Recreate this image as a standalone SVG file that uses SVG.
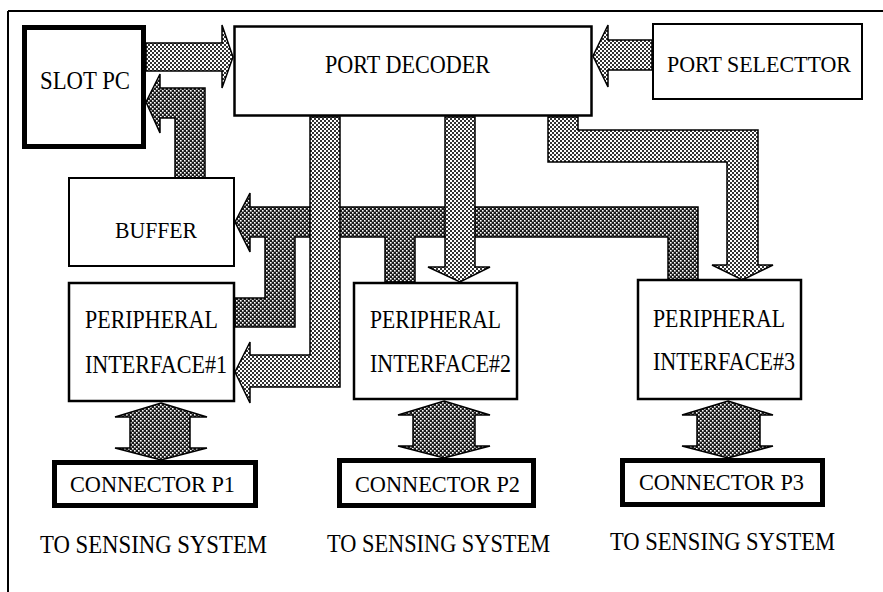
<svg xmlns="http://www.w3.org/2000/svg" width="883" height="592" viewBox="0 0 883 592">
<defs>
<pattern id="lightPat" width="4" height="4" patternUnits="userSpaceOnUse">
<rect width="4" height="4" fill="#ffffff"/>
<rect x="0" y="0" width="2" height="2" fill="#333"/>
<rect x="2" y="2" width="2" height="2" fill="#333"/>
</pattern>
<pattern id="darkPat" width="4" height="4" patternUnits="userSpaceOnUse">
<rect width="4" height="4" fill="#1a1a1a"/>
<rect x="0" y="0" width="1.6" height="1.6" fill="#ffffff"/>
<rect x="2" y="2" width="1.6" height="1.6" fill="#ffffff"/>
</pattern>
<style>
.box{fill:#fff;stroke:#000;stroke-width:2.5}
.thick{fill:#fff;stroke:#000;stroke-width:5}
.light{fill:url(#lightPat);stroke:#000;stroke-width:1.5;stroke-linejoin:miter}
.dark{fill:url(#darkPat);stroke:#000;stroke-width:1.5;stroke-linejoin:miter}
text{font-family:"Liberation Serif","DejaVu Serif",serif;font-size:26px;fill:#000}
.sm{font-size:23px}
</style>
</defs>
<rect width="883" height="592" fill="#fff"/>
<g id="frame">
<line x1="8" y1="11" x2="883" y2="11" stroke="#000" stroke-width="2"/>
<line x1="8" y1="11" x2="8" y2="592" stroke="#000" stroke-width="2"/>
</g>
<g id="connectors">
<polygon class="dark" points="235,222 250,193 250,207 698,207 698,280 668,280 668,237 415,237 415,282 385,282 385,237 295,237 295,327 235,327 235,298 265,298 265,237 250,237 250,252"/>
<polygon class="dark" points="146,102 160,74 160,88 205,88 205,178 175,178 175,118 160,118 160,133"/>
<polygon class="light" points="146,43 222,43 222,25 233,57 222,88 222,71 146,71"/>
<polygon class="light" points="652,40 608,40 608,25 593,56 608,87 608,70 652,70"/>
<polygon class="light" points="310,117 340,117 340,387 250,387 250,403 235,372 250,342 250,355 310,355"/>
<polygon class="light" points="445,117 475,117 475,267 490,267 460,282 428,267 445,267"/>
<polygon class="light" points="548,117 578,117 578,130 758,130 758,265 773,265 742.5,280 712,265 727,265 727,162 548,162"/>
<polygon class="dark" points="161,403 207,417 190,417 190,448 207,448 161,460 115,448 130,448 130,417 115,417"/>
<polygon class="dark" points="444,401 490,415 475,415 475,446 490,446 444,458 398,446 413,446 413,415 398,415"/>
<polygon class="dark" points="728,401 773,415 760,415 760,446 773,446 728,458 682,446 697,446 697,415 682,415"/>
</g>
<g id="slot-pc">
<rect class="thick" x="24.5" y="27.5" width="119" height="119"/>
<text x="40" y="89" textLength="90" lengthAdjust="spacingAndGlyphs">SLOT PC</text>
</g>
<g id="port-decoder">
<rect class="box" x="234.5" y="26.5" width="357" height="89" stroke-width="3"/>
<text x="325" y="73" textLength="165" lengthAdjust="spacingAndGlyphs">PORT DECODER</text>
</g>
<g id="port-selector">
<rect class="box" x="653" y="24" width="209" height="75" style="stroke-width:2"/>
<text class="sm" x="667" y="72" textLength="184" lengthAdjust="spacingAndGlyphs">PORT SELECTTOR</text>
</g>
<g id="buffer">
<rect class="box" x="69" y="178" width="165" height="88" style="stroke-width:2"/>
<text class="sm" x="115" y="238" textLength="82" lengthAdjust="spacingAndGlyphs">BUFFER</text>
</g>
<g id="peripheral-1">
<rect class="box" x="69" y="283" width="165" height="118"/>
<text x="85" y="328" textLength="133" lengthAdjust="spacingAndGlyphs">PERIPHERAL</text>
<text x="85" y="373" textLength="142" lengthAdjust="spacingAndGlyphs">INTERFACE#1</text>
</g>
<g id="peripheral-2">
<rect class="box" x="354" y="283" width="163" height="116"/>
<text x="370" y="328" textLength="131" lengthAdjust="spacingAndGlyphs">PERIPHERAL</text>
<text x="370" y="372" textLength="141" lengthAdjust="spacingAndGlyphs">INTERFACE#2</text>
</g>
<g id="peripheral-3">
<rect class="box" x="638" y="280" width="163" height="119"/>
<text x="653" y="327" textLength="132" lengthAdjust="spacingAndGlyphs">PERIPHERAL</text>
<text x="653" y="370" textLength="142" lengthAdjust="spacingAndGlyphs">INTERFACE#3</text>
</g>
<g id="connector-p1">
<rect class="thick" x="54.5" y="462.5" width="201" height="43"/>
<text class="sm" x="70" y="492" textLength="165" lengthAdjust="spacingAndGlyphs">CONNECTOR P1</text>
</g>
<g id="connector-p2">
<rect class="thick" x="339.5" y="460.5" width="194" height="45"/>
<text class="sm" x="355" y="492" textLength="165" lengthAdjust="spacingAndGlyphs">CONNECTOR P2</text>
</g>
<g id="connector-p3">
<rect class="thick" x="622.5" y="460.5" width="200" height="44"/>
<text class="sm" x="639" y="490" textLength="165" lengthAdjust="spacingAndGlyphs">CONNECTOR P3</text>
</g>
<g id="labels">
<text x="40" y="553" textLength="227" lengthAdjust="spacingAndGlyphs">TO SENSING SYSTEM</text>
<text x="327" y="552" textLength="223" lengthAdjust="spacingAndGlyphs">TO SENSING SYSTEM</text>
<text x="610" y="550" textLength="225" lengthAdjust="spacingAndGlyphs">TO SENSING SYSTEM</text>
</g>
</svg>
